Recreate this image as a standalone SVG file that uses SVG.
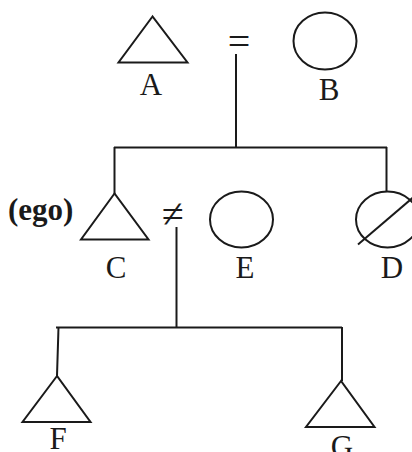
<svg xmlns="http://www.w3.org/2000/svg" width="412" height="452" viewBox="0 0 412 452">
<style>
.sh{fill:none;stroke:#1a1a1a;stroke-width:2}
.ln{fill:none;stroke:#1a1a1a;stroke-width:2}
.lb{font-family:"Liberation Serif","Times New Roman",serif;font-size:31px;fill:#1a1a1a;text-anchor:middle}
.sym{font-family:"Liberation Serif","DejaVu Serif",serif;font-size:40px;fill:#1a1a1a;text-anchor:middle}
.ego{font-family:"Liberation Serif","Times New Roman",serif;font-size:31px;font-weight:bold;fill:#1a1a1a}
</style>
<rect width="412" height="452" fill="#fff"/>
<g id="connectors">
<line class="ln" x1="236" y1="54" x2="236" y2="148"/>
<line class="ln" x1="114" y1="147.5" x2="387" y2="147.5"/>
<line class="ln" x1="114.5" y1="147" x2="114.5" y2="194"/>
<line class="ln" x1="386.5" y1="147" x2="386.5" y2="191"/>
<line class="ln" x1="176.5" y1="227" x2="176.5" y2="328"/>
<line class="ln" x1="56" y1="327.5" x2="342" y2="327.5"/>
<line class="ln" x1="58.5" y1="327" x2="57" y2="376"/>
<line class="ln" x1="342" y1="327" x2="342" y2="381"/>
</g>
<g id="marriage-AB"><text class="sym" x="239" y="55">=</text></g>
<g id="divorce-CE"><text class="sym" x="173" y="227">≠</text></g>
<g id="A">
<polygon class="sh" points="152.5,16.5 118.5,62.5 187.5,62.5"/>
<text class="lb" x="151" y="95">A</text>
</g>
<g id="B">
<ellipse class="sh" cx="325" cy="41" rx="31.5" ry="28.5"/>
<text class="lb" x="329" y="100">B</text>
</g>
<g id="C">
<polygon class="sh" points="114.5,193.5 81,239.5 148.5,239.5"/>
<text class="lb" x="116" y="278">C</text>
<text class="ego" x="8" y="220">(ego)</text>
</g>
<g id="E">
<ellipse class="sh" cx="241.5" cy="219.5" rx="31.5" ry="28"/>
<text class="lb" x="245" y="278">E</text>
</g>
<g id="D">
<ellipse class="sh" cx="387.5" cy="219.5" rx="31.5" ry="28"/>
<line class="sh" x1="358" y1="244.5" x2="416" y2="195"/>
<text class="lb" x="392" y="278">D</text>
</g>
<g id="F">
<polygon class="sh" points="57,376 22.5,422 90.5,422"/>
<text class="lb" x="58" y="449">F</text>
</g>
<g id="G">
<polygon class="sh" points="341,381 306,427 374.5,427"/>
<text class="lb" x="342" y="457">G</text>
</g>
</svg>
